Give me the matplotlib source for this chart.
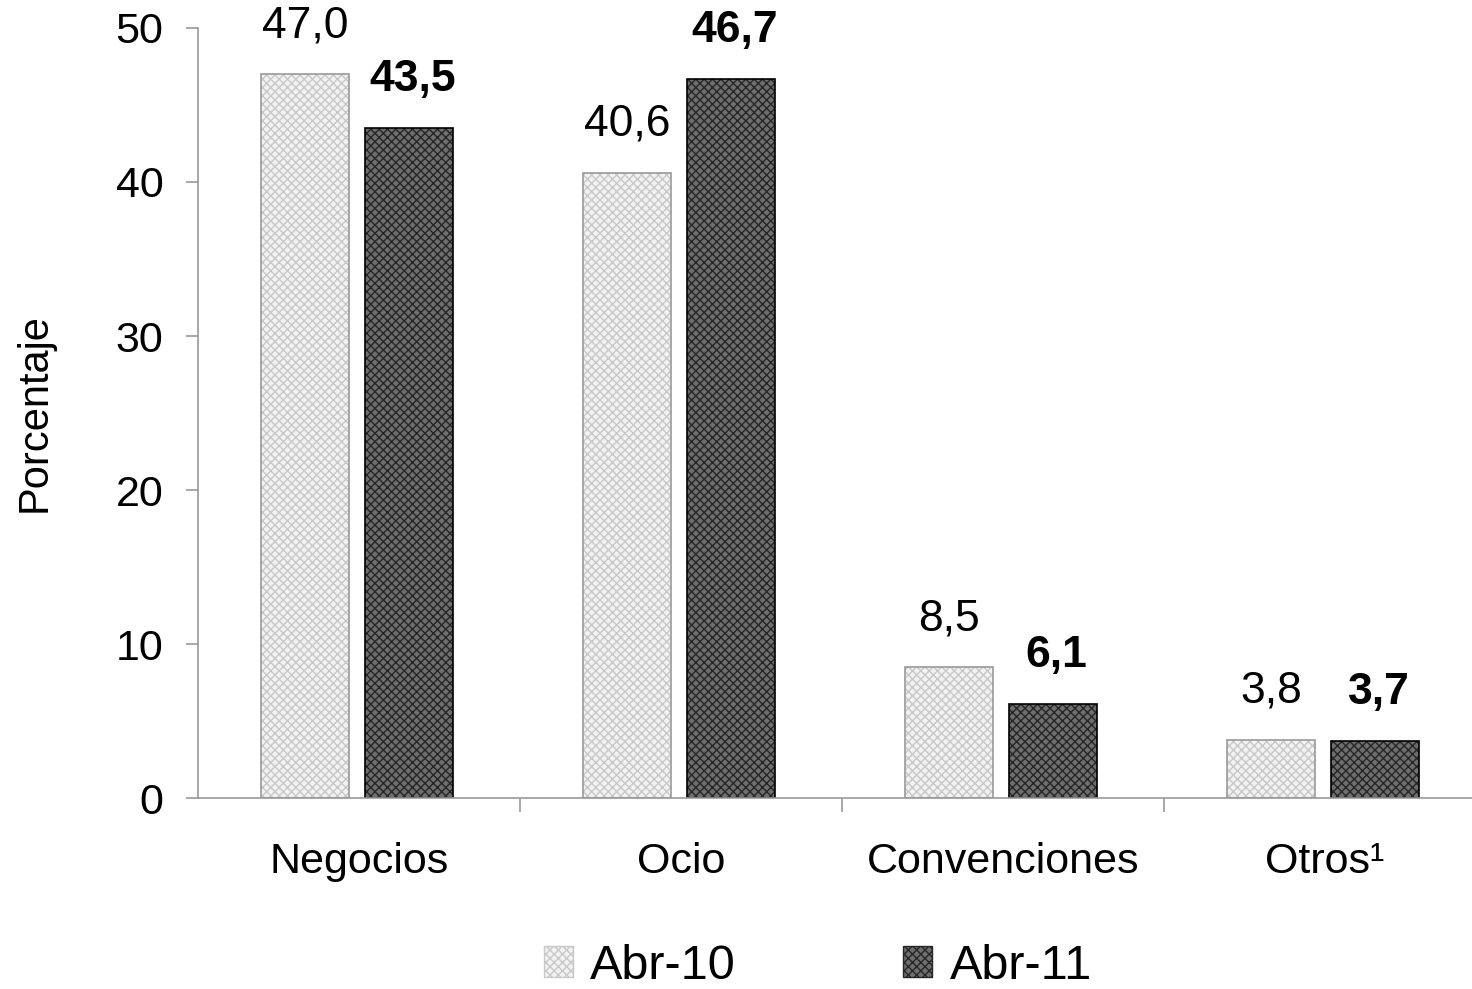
import matplotlib
matplotlib.use("Agg")
import matplotlib.pyplot as plt
import numpy as np
from matplotlib.patches import Patch

plt.rcParams['font.family'] = ['Liberation Sans', 'DejaVu Sans']

categories = ["Negocios", "Ocio", "Convenciones", "Otros¹"]
abr10 = [47.0, 40.6, 8.5, 3.8]
abr11 = [43.5, 46.7, 6.1, 3.7]
series_names = ["Abr-10", "Abr-11"]
yticks = [0, 10, 20, 30, 40, 50]

def fmt(v):
    return f"{v:.1f}".replace(".", ",")

fig = plt.figure(figsize=(14.72, 9.89), dpi=100)
ax = fig.add_axes([0.1345, 0.1931, 0.875, 0.7786])

x = np.arange(len(categories))
w = 0.273
off = 0.162
shift = -0.006

light_face, light_hatch, light_edge = "#f2f2f2", "#c8c8c8", "#9a9a9a"
dark_face, dark_hatch, dark_edge = "#6e6e6e", "#262626", "#000000"

ax.bar(x - off + shift, abr10, w, color=light_face, edgecolor=light_hatch, hatch="xxxx", linewidth=0)
ax.bar(x - off + shift, abr10, w, fill=False, edgecolor=light_edge, linewidth=1.2)
ax.bar(x + off + shift, abr11, w, color=dark_face, edgecolor=dark_hatch, hatch="xxxx", linewidth=0)
ax.bar(x + off + shift, abr11, w, fill=False, edgecolor=dark_edge, linewidth=1.2)

for xi, v in zip(x, abr10):
    ax.annotate(fmt(v), (xi - off + shift, v), xytext=(0, 20), textcoords="offset points",
                ha="center", va="bottom", fontsize=32)
for xi, v in zip(x, abr11):
    ax.annotate(fmt(v), (xi + off + shift + 0.01, v), xytext=(0, 20), textcoords="offset points",
                ha="center", va="bottom", fontsize=32, fontweight="bold")

ax.set_xlim(-0.5, len(categories) - 0.5)
ax.set_ylim(0, 50)
ax.set_yticks(yticks)
ax.set_yticklabels([str(t) for t in yticks], fontsize=31)
ax.set_xticks(x)
ax.set_xticklabels(categories, fontsize=31)
ax.set_xticks(np.arange(0.5, len(categories) - 0.5, 1), minor=True)
ax.tick_params(axis="x", which="major", length=0, pad=32)
ax.tick_params(axis="x", which="minor", length=10, color="#999999", width=1.2)
ax.tick_params(axis="y", length=9, color="#999999", width=1.2, pad=16)
for s in ["top", "right"]:
    ax.spines[s].set_visible(False)
for s in ["left", "bottom"]:
    ax.spines[s].set_color("#999999")
    ax.spines[s].set_linewidth(1.2)
ax.set_ylabel("Porcentaje", fontsize=30, labelpad=44)

handles = [Patch(facecolor=light_face, edgecolor=light_hatch, hatch="xxxx"),
           Patch(facecolor=dark_face, edgecolor=dark_hatch, hatch="xxxx")]
fig.legend(handles, series_names, loc="center", bbox_to_anchor=(0.5555, 0.023), ncol=2,
           frameon=False, fontsize=35, handlelength=0.6, handleheight=0.6,
           handletextpad=0.35, columnspacing=3.45, borderpad=0.1)

fig.savefig("out.png", dpi=100)
